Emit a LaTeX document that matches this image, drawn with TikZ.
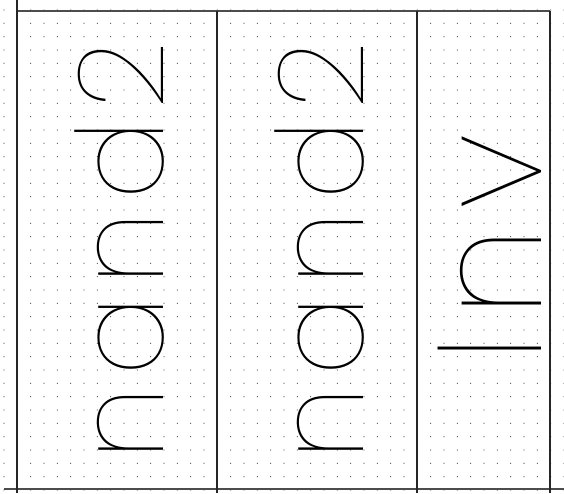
\documentclass[tikz,border=0pt]{standalone}
\usepackage{fontspec}
\IfFontExistsTF{Poppins-Thin.otf}
  {\newfontfamily\thinfont{Poppins-Thin.otf}}
  {\IfFontExistsTF{Poppins-Thin.ttf}
     {\newfontfamily\thinfont{Poppins-Thin.ttf}}
     {\IfFontExistsTF{FiraSans-Thin.otf}
        {\newfontfamily\thinfont{FiraSans-Thin.otf}}
        {\newfontfamily\thinfont{Fira Sans}}}}
\tikzset{
  griddot/.style={fill=black!65},
  vline/.style={draw=black!85,line width=1.6pt},
  hline/.style={draw=black!70,line width=1.6pt},
  celltext/.style={inner sep=0pt,outer sep=0pt,rotate=90,anchor=base,text=black},
}
\begin{document}
\begin{tikzpicture}[x=1pt,y=-1pt]
\useasboundingbox[fill=white] (0,0) rectangle (564,493);
% dot grid
\foreach \i in {0,...,42}
  \foreach \j in {0,...,36}
    \fill[griddot] ({4+\i*13.3333},{10+\j*13.3333}) circle (0.65);
% frame lines
\draw[hline] (17,11) -- (550,11);
\draw[hline] (4,489) -- (564,489);
\draw[vline] (17,0) -- (17,493);
\draw[vline] (217,11) -- (217,493);
\draw[vline] (417,11) -- (417,493);
\draw[vline] (550,11) -- (550,493);
% cell texts
\node[celltext] (t1) at (163,251) {\thinfont\addfontfeature{LetterSpace=9}\fontsize{120}{120}\selectfont nand2};
\node[celltext] (t2) at (363,251) {\thinfont\addfontfeature{LetterSpace=9}\fontsize{120}{120}\selectfont nand2};
\node[celltext] (t3) at (541,248) {\thinfont\addfontfeature{LetterSpace=12}\fontsize{147}{147}\selectfont Inv};
\end{tikzpicture}
\end{document}
